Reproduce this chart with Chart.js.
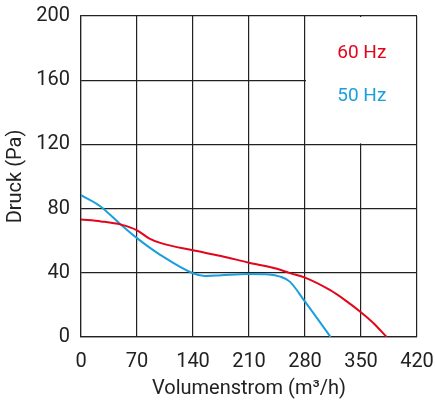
<!DOCTYPE html>
<html>
<head>
<meta charset="utf-8">
<script src="https://cdn.jsdelivr.net/npm/chart.js@4/dist/chart.umd.min.js"></script>
<style>
  html, body { margin: 0; padding: 0; background: #fff; }
  #wrap { width: 435px; height: 401px; }
</style>
</head>
<body>
<div id="wrap"><canvas id="kennlinie"></canvas></div>
<script>
// Kennlinien (Volumenstrom m3/h -> Druck Pa)
const q60 = [0, 25, 50, 70, 85, 100, 140, 175, 210, 245, 261, 280, 311, 330, 351, 367, 382];
const p60 = [73.2, 72, 70, 66.5, 61.5, 58.5, 54, 50.5, 46.3, 42.5, 39.8, 37, 29.3, 23, 15, 8, 0];
const q50 = [0, 24, 49, 70, 99, 140, 155, 175, 209, 235, 249, 261, 280, 312];
const p50 = [88.4, 81.5, 70.4, 61.6, 51.2, 39.7, 38, 38.5, 39.3, 39, 37.6, 34.5, 22, 0];

const xTicks = [0, 70, 140, 210, 280, 350, 420];
const yTicks = [0, 40, 80, 120, 160, 200];

const rot = "#e3051b";
const blau = "#1a9fdc";
const schrift = "Roboto, 'DejaVu Sans', sans-serif";

const toPts = (xs, ys) => xs.map((x, i) => ({ x: x, y: ys[i] }));

// weisses Feld oben rechts fuer die Beschriftung
const legendBox = {
  id: "legendBox",
  beforeDatasetsDraw(chart) {
    const { ctx, scales: { x, y } } = chart;
    ctx.save();
    ctx.fillStyle = "#fff";
    const l = x.getPixelForValue(280) + 1;
    const r = x.getPixelForValue(420) - 1;
    const t = y.getPixelForValue(200) + 1;
    const b = y.getPixelForValue(120) - 1;
    ctx.fillRect(l, t, r - l, b - t);
    ctx.restore();
  },
  afterDraw(chart) {
    const { ctx, scales: { x, y } } = chart;
    ctx.save();
    ctx.font = "19px " + schrift;
    ctx.textAlign = "center";
    ctx.textBaseline = "middle";
    ctx.fillStyle = rot;
    ctx.fillText("60 Hz", x.getPixelForValue(351), y.getPixelForValue(176.5));
    ctx.fillStyle = blau;
    ctx.fillText("50 Hz", x.getPixelForValue(351), y.getPixelForValue(150));
    ctx.restore();
  },
};

new Chart(document.getElementById("kennlinie"), {
  type: "line",
  data: {
    datasets: [
      {
        label: "60 Hz",
        data: toPts(q60, p60),
        borderColor: rot,
        borderWidth: 2,
        pointRadius: 0,
        cubicInterpolationMode: "monotone",
        fill: false,
      },
      {
        label: "50 Hz",
        data: toPts(q50, p50),
        borderColor: blau,
        borderWidth: 2,
        pointRadius: 0,
        cubicInterpolationMode: "monotone",
        fill: false,
      },
    ],
  },
  options: {
    responsive: true,
    maintainAspectRatio: false,
    animation: false,
    layout: { padding: { left: 0, right: 18, top: 16, bottom: 0 } },
    plugins: {
      legend: { display: false },
      tooltip: { enabled: false },
    },
    scales: {
      x: {
        type: "linear",
        min: 0,
        max: 420,
        afterBuildTicks: (s) => { s.ticks = xTicks.map((v) => ({ value: v })); },
        afterFit: (s) => { s.height = 64; s.paddingLeft = 0; s.paddingRight = 0; },
        grid: { color: "#222", lineWidth: 1.2, drawTicks: false },
        border: { color: "#222", width: 1.2 },
        ticks: { color: "#222", font: { size: 20, family: schrift }, padding: 13, maxRotation: 0 },
        title: {
          display: true,
          text: "Volumenstrom (m³/h)",
          color: "#222",
          font: { size: 20, family: schrift },
          padding: { top: 2, bottom: 0 },
        },
      },
      y: {
        min: 0,
        max: 200,
        afterBuildTicks: (s) => { s.ticks = yTicks.map((v) => ({ value: v })); },
        afterFit: (s) => { s.width = 81; s.paddingTop = 0; s.paddingBottom = 0; },
        grid: { color: "#222", lineWidth: 1.2, drawTicks: false },
        border: { color: "#222", width: 1.2 },
        ticks: { color: "#222", font: { size: 20, family: schrift }, padding: 11 },
        title: {
          display: true,
          text: "Druck (Pa)",
          color: "#222",
          font: { size: 20, family: schrift },
          padding: { top: 4, bottom: 0 },
        },
      },
    },
  },
  plugins: [legendBox],
});
</script>
</body>
</html>
